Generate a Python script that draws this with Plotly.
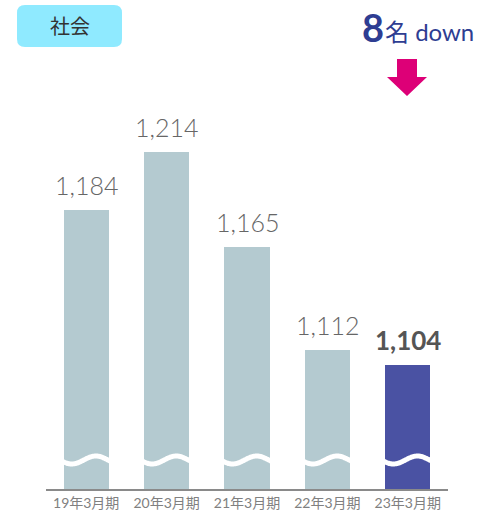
import numpy as np
import plotly.graph_objects as go

# Data
categories = ["19年3月期", "20年3月期", "21年3月期", "22年3月期", "23年3月期"]
values = [1184, 1214, 1165, 1112, 1104]
value_labels = ["1,184", "1,214", "1,165", "1,112", "1,104"]
subject = "社会"
change_number = "8"
change_text = "名 down"

W, H = 479, 517
ML, MR, MT, MB = 46, 31, 0, 28
PW, PH = W - ML - MR, H - MT - MB
Y0 = 1040
PX_PER_UNIT = 1.936
Y1 = Y0 + PH / PX_PER_UNIT
BAR_W = 0.56

GRAY_BAR = "#B4CAD0"
LAST_BAR = "#4A52A3"
FONT = "Lato, Noto Sans CJK JP, sans-serif"


def px(x):
    return (x - ML) / PW


def py(y):
    return 1 - (y - MT) / PH


colors = [GRAY_BAR] * (len(values) - 1) + [LAST_BAR]
x_idx = list(range(len(categories)))

fig = go.Figure()
fig.add_trace(go.Bar(
    x=x_idx, y=values, width=BAR_W, marker=dict(color=colors, line=dict(width=0)),
    hoverinfo="skip", showlegend=False,
))

# Wavy break lines across each bar (axis starts above zero)
t = np.linspace(0, 1, 60)
wave_center = Y0 + 29 / PX_PER_UNIT
wave_amp = 4 / PX_PER_UNIT
for i in x_idx:
    xs = i - BAR_W / 2 - 0.02 + t * (BAR_W + 0.04)
    ys = wave_center + wave_amp * np.sin(2 * np.pi * (t - 0.45))
    fig.add_trace(go.Scatter(
        x=xs, y=ys, mode="lines", line=dict(color="white", width=5, shape="spline"),
        hoverinfo="skip", showlegend=False,
    ))

annotations = []
for i, (v, lab) in enumerate(zip(values, value_labels)):
    last = i == len(values) - 1
    annotations.append(dict(
        x=i, y=v, xref="x", yref="y", text=f"<b>{lab}</b>" if last else lab,
        showarrow=False, yanchor="bottom", yshift=8 if not last else 7,
        font=dict(family=FONT, size=25 if not last else 26,
                  color="#666666" if not last else "#555555",
                  weight=300 if not last else 700),
    ))

# Subject header
annotations.append(dict(
    x=px(70), y=py(26), xref="paper", yref="paper", text=subject, showarrow=False,
    xanchor="center", yanchor="middle",
    font=dict(family="Noto Sans CJK JP", size=20, color="#333333", weight=400),
))

# Change callout
annotations.append(dict(
    x=px(360), y=py(27), xref="paper", yref="paper", text=f"<b>{change_number}</b>",
    showarrow=False, xanchor="left", yanchor="middle",
    font=dict(family=FONT, size=38, color="#2E3D92"),
))
annotations.append(dict(
    x=px(383), y=py(31), xref="paper", yref="paper", text=change_text,
    showarrow=False, xanchor="left", yanchor="middle",
    font=dict(family=FONT, size=24, color="#2E3D92", weight=400),
))

shapes = [
    # header box
    dict(type="path", xref="paper", yref="paper", layer="below",
         path=(f"M{px(25)},{py(5)} L{px(114)},{py(5)} Q{px(122)},{py(5)} {px(122)},{py(13)} "
               f"L{px(122)},{py(39)} Q{px(122)},{py(47)} {px(114)},{py(47)} "
               f"L{px(25)},{py(47)} Q{px(17)},{py(47)} {px(17)},{py(39)} "
               f"L{px(17)},{py(13)} Q{px(17)},{py(5)} {px(25)},{py(5)} Z"),
         fillcolor="#8FEAFF", line=dict(width=0)),
    # down arrow
    dict(type="path", xref="paper", yref="paper",
         path=(f"M{px(397)},{py(59)} L{px(417)},{py(59)} L{px(417)},{py(77)} "
               f"L{px(427)},{py(77)} L{px(407)},{py(96)} L{px(387)},{py(77)} "
               f"L{px(397)},{py(77)} Z"),
         fillcolor="#DD0077", line=dict(width=0)),
]

fig.update_layout(
    width=W, height=H, margin=dict(l=ML, r=MR, t=MT, b=MB),
    paper_bgcolor="white", plot_bgcolor="white",
    annotations=annotations, shapes=shapes,
    xaxis=dict(range=[-0.5, len(categories) - 0.5], tickmode="array",
               tickvals=x_idx, ticktext=categories, showgrid=False, zeroline=False,
               showline=True, linecolor="#8A8A8A", linewidth=2, ticks="",
               tickfont=dict(family=FONT, size=14, color="#808080"), fixedrange=True),
    yaxis=dict(range=[Y0, Y1], visible=False, fixedrange=True),
    bargap=0,
)

fig.write_html("out.html")
